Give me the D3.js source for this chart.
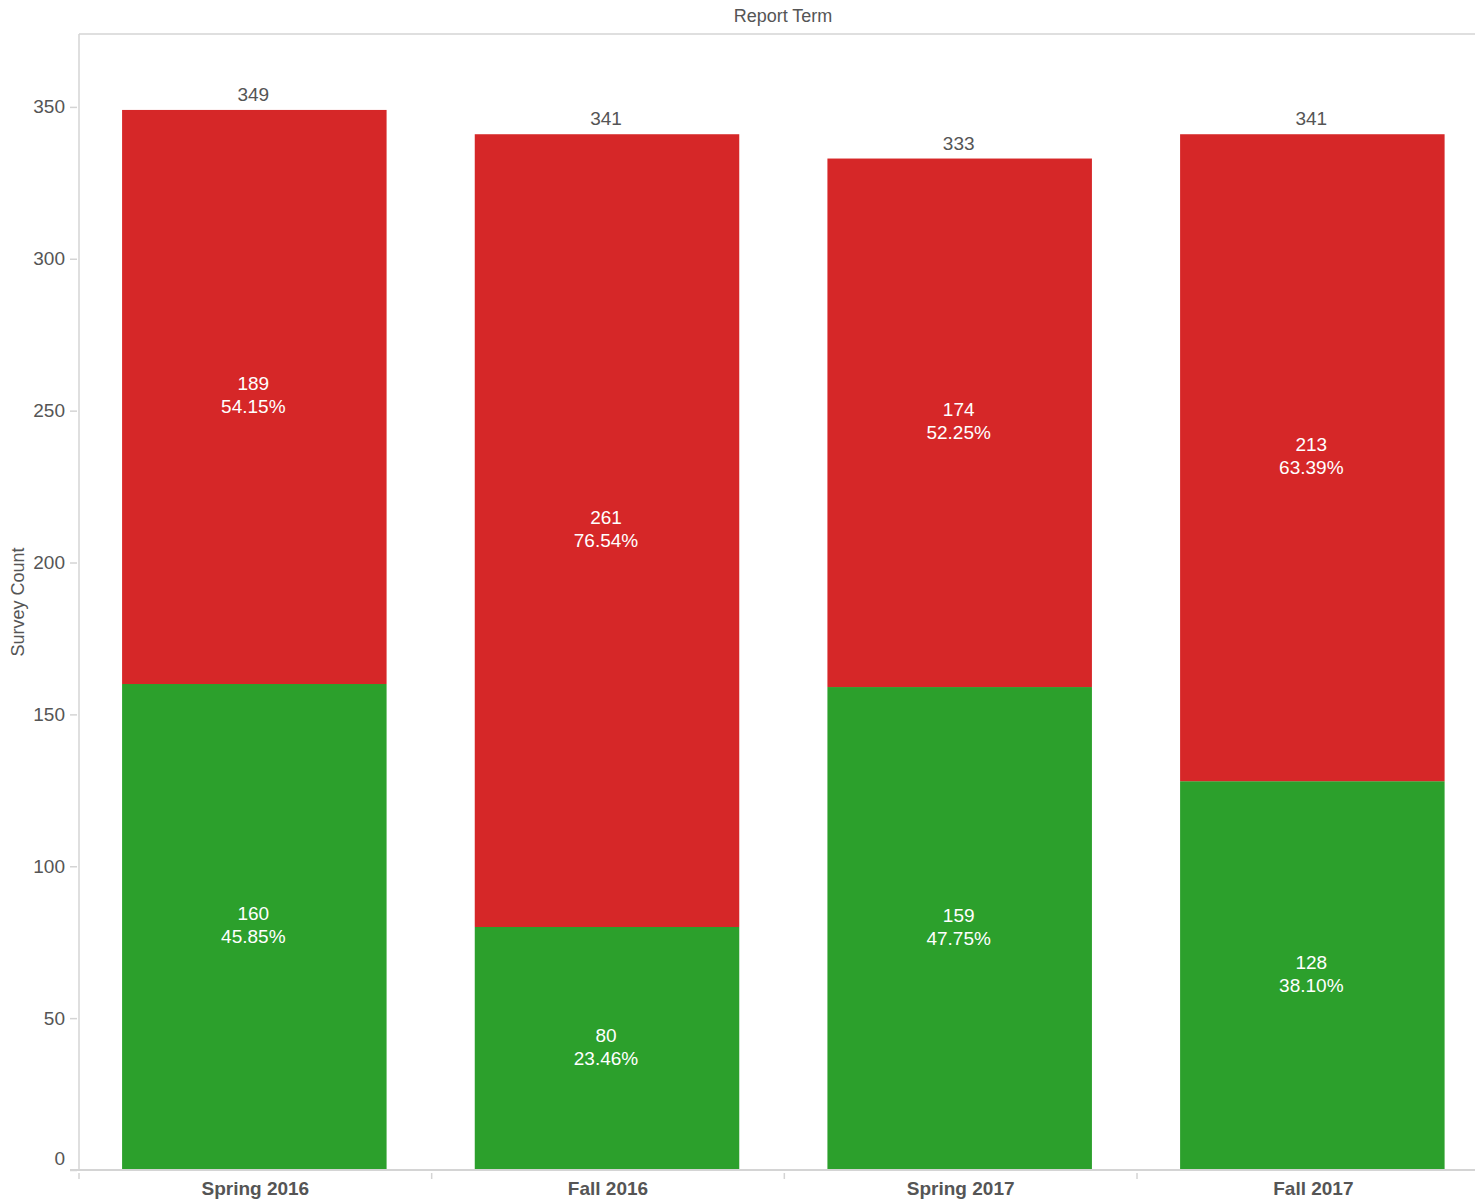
<!DOCTYPE html>
<html>
<head>
<meta charset="utf-8">
<script src="https://cdn.jsdelivr.net/npm/d3@7"></script>
<style>
  body { margin: 0; background: #fff; }
  text { font-family: "Liberation Sans", Arial, sans-serif; }
</style>
</head>
<body>
<div id="chart"></div>
<script>
var terms = ["Spring 2016", "Fall 2016", "Spring 2017", "Fall 2017"];
var greenCounts = [160, 80, 159, 128];
var redCounts = [189, 261, 174, 213];
var greenPct = ["45.85%", "23.46%", "47.75%", "38.10%"];
var redPct = ["54.15%", "76.54%", "52.25%", "63.39%"];
var yTicks = [0, 50, 100, 150, 200, 250, 300, 350];

var width = 1475, height = 1204;
var plotLeft = 79, plotTop = 34, plotBottom = 1170;

var svg = d3.select("#chart").append("svg")
            .attr("width", width)
            .attr("height", height);

var x = d3.scaleBand()
          .domain(terms)
          .range([plotLeft - 1, plotLeft - 1 + 4 * 352.67])
          .paddingInner(0.25)
          .paddingOuter(0.125);

var y = d3.scaleLinear()
          .domain([0, 374])
          .range([plotBottom, plotTop]);

var rows = terms.map(function (t, i) {
    return { term: t, green: greenCounts[i], red: redCounts[i],
             gp: greenPct[i], rp: redPct[i], total: greenCounts[i] + redCounts[i] };
});

// frame
svg.append("line").attr("x1", plotLeft).attr("x2", width).attr("y1", plotTop).attr("y2", plotTop)
   .style("stroke", "#d4d4d4").style("stroke-width", 1.5);
svg.append("line").attr("x1", plotLeft).attr("x2", plotLeft).attr("y1", plotTop).attr("y2", plotBottom)
   .style("stroke", "#d4d4d4").style("stroke-width", 1.5);

// bars
svg.selectAll("rect.green").data(rows).enter().append("rect")
   .attr("x", function (d) { return x(d.term); })
   .attr("width", x.bandwidth())
   .attr("y", function (d) { return y(d.green); })
   .attr("height", function (d) { return y(0) - y(d.green); })
   .style("fill", "#2ca02c");

svg.selectAll("rect.red").data(rows).enter().append("rect")
   .attr("x", function (d) { return x(d.term); })
   .attr("width", x.bandwidth())
   .attr("y", function (d) { return y(d.total); })
   .attr("height", function (d) { return y(d.green) - y(d.total); })
   .style("fill", "#d62728");

// segment labels
function segLabel(sel, mid, count, pct) {
    var cx = function (d) { return x(d.term) + x.bandwidth() / 2 - 1; };
    var g = sel.append("text")
       .attr("x", cx)
       .attr("y", function (d) { return y(mid(d)); })
       .attr("text-anchor", "middle")
       .style("fill", "#fff")
       .style("font-size", "19px");
    g.append("tspan").attr("x", cx).attr("dy", "-0.35em").text(count);
    g.append("tspan").attr("x", cx).attr("dy", "1.2em").text(pct);
}
var lg = svg.selectAll("g.lab").data(rows).enter().append("g");
segLabel(lg, function (d) { return d.green / 2; }, function (d) { return d.green; }, function (d) { return d.gp; });
segLabel(lg, function (d) { return d.green + d.red / 2; }, function (d) { return d.red; }, function (d) { return d.rp; });

// totals
svg.selectAll("text.total").data(rows).enter().append("text")
   .attr("x", function (d) { return x(d.term) + x.bandwidth() / 2 - 1; })
   .attr("y", function (d) { return y(d.total) - 9; })
   .attr("text-anchor", "middle")
   .style("fill", "#555")
   .style("font-size", "19px")
   .text(function (d) { return d.total; });

// y axis
var yAxis = svg.append("g")
   .attr("transform", "translate(" + (plotLeft - 2) + ",0)")
   .call(d3.axisLeft(y).tickValues(yTicks).tickSize(7).tickPadding(5));
yAxis.select(".domain").remove();
yAxis.selectAll("line").style("stroke", "#d4d4d4").style("stroke-width", 1.5);
yAxis.selectAll("text").style("fill", "#555").style("font-size", "19px")
     .style("font-family", "'Liberation Sans', Arial, sans-serif");
// the zero label sits just above the baseline
yAxis.selectAll(".tick").filter(function (d) { return d === 0; })
     .select("text").attr("dy", "-0.3em");

// x axis baseline and separators
svg.append("line").attr("x1", 70).attr("x2", width).attr("y1", plotBottom).attr("y2", plotBottom)
   .style("stroke", "#d4d4d4").style("stroke-width", 2);
var seps = terms.map(function (t) { return x(t) - x.step() * 0.125 + 1; });
svg.selectAll("line.sep").data(seps).enter().append("line")
   .attr("x1", function (d) { return d; }).attr("x2", function (d) { return d; })
   .attr("y1", plotBottom + 3).attr("y2", plotBottom + 9)
   .style("stroke", "#d4d4d4").style("stroke-width", 1.5);

svg.selectAll("text.xlab").data(terms).enter().append("text")
   .attr("x", function (d) { return x(d) + x.bandwidth() / 2 + 1; })
   .attr("y", plotBottom + 25)
   .attr("text-anchor", "middle")
   .style("fill", "#555")
   .style("font-size", "19px")
   .style("font-weight", "bold")
   .text(function (d) { return d; });

// titles
svg.append("text")
   .attr("x", 783)
   .attr("y", 22)
   .attr("text-anchor", "middle")
   .style("fill", "#555")
   .style("font-size", "18px")
   .text("Report Term");

svg.append("text")
   .attr("transform", "translate(24," + (plotTop + plotBottom) / 2 + ") rotate(-90)")
   .attr("text-anchor", "middle")
   .style("fill", "#555")
   .style("font-size", "18px")
   .text("Survey Count");
</script>
</body>
</html>
